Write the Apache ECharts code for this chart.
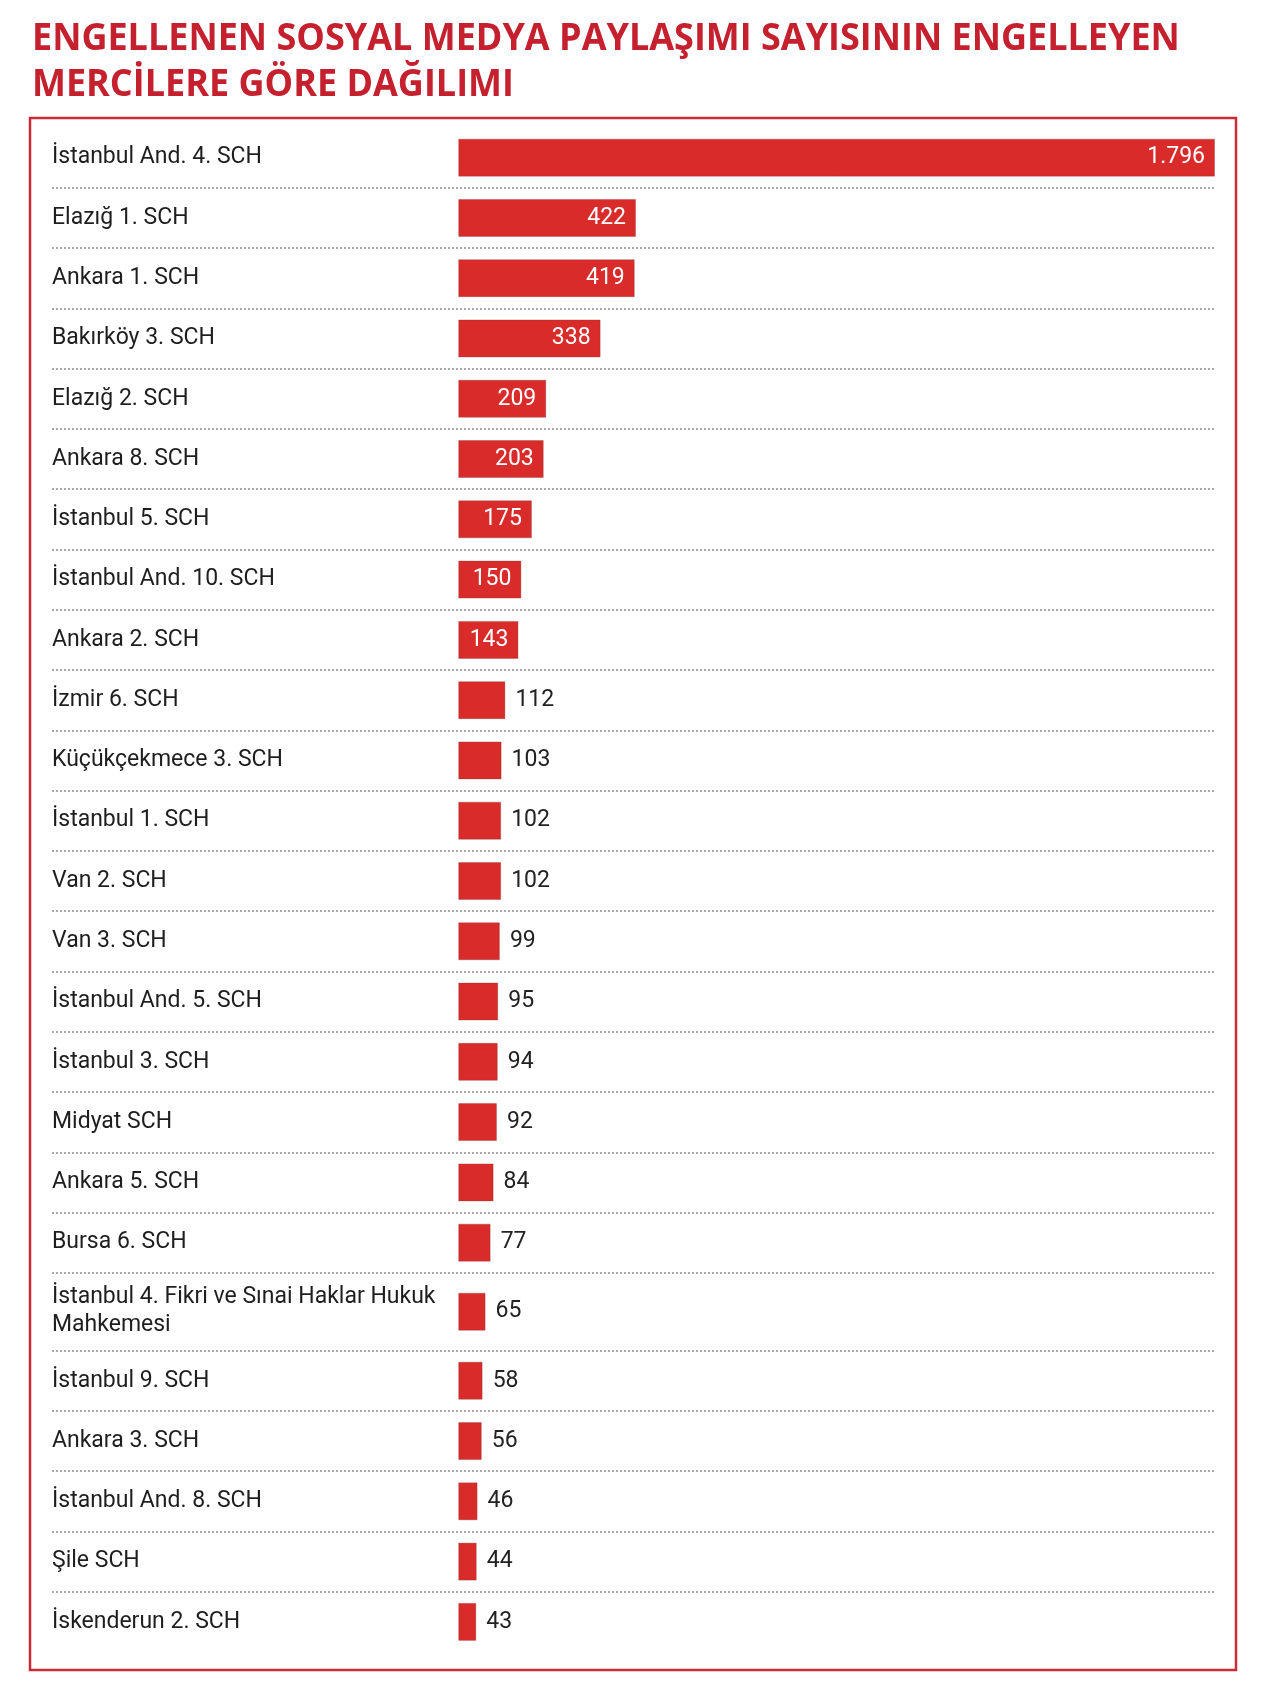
<!DOCTYPE html>
<html><head><meta charset="utf-8">
<script src="https://cdn.jsdelivr.net/npm/echarts@6/dist/echarts.min.js"></script>
<style>html,body{margin:0;padding:0;background:#fff}#c{width:1275px;height:1696px}</style>
</head><body><div id="c"></div>
<script>
const titleLines = [
  'ENGELLENEN SOSYAL MEDYA PAYLAŞIMI SAYISININ ENGELLEYEN',
  'MERCİLERE GÖRE DAĞILIMI'
];
const categories = [
  'İstanbul And. 4. SCH',
  'Elazığ 1. SCH',
  'Ankara 1. SCH',
  'Bakırköy 3. SCH',
  'Elazığ 2. SCH',
  'Ankara 8. SCH',
  'İstanbul 5. SCH',
  'İstanbul And. 10. SCH',
  'Ankara 2. SCH',
  'İzmir 6. SCH',
  'Küçükçekmece 3. SCH',
  'İstanbul 1. SCH',
  'Van 2. SCH',
  'Van 3. SCH',
  'İstanbul And. 5. SCH',
  'İstanbul 3. SCH',
  'Midyat SCH',
  'Ankara 5. SCH',
  'Bursa 6. SCH',
  'İstanbul 4. Fikri ve Sınai Haklar Hukuk\nMahkemesi',
  'İstanbul 9. SCH',
  'Ankara 3. SCH',
  'İstanbul And. 8. SCH',
  'Şile SCH',
  'İskenderun 2. SCH'
];
const values = [1796, 422, 419, 338, 209, 203, 175, 150, 143, 112, 103, 102, 102, 99, 95, 94, 92, 84, 77, 65, 58, 56, 46, 44, 43];

const X_MAX = 1796, X_MIN = -964;
const LEFT = 52, RIGHT = 1215, ROW = 60.28, TALL = 77.8, TOP = 127.5;
const groups = [[0, 19], [19, 20], [20, 25]];
const RED = '#d92b2a';
const fmt = v => String(v).replace(/\B(?=(\d{3})+(?!\d))/g, '.');

const grids = [], xAxes = [], yAxes = [], series = [];
let y = TOP;
groups.forEach(([a, b], gi) => {
  const cats = categories.slice(a, b), vals = values.slice(a, b);
  const h = cats.reduce((s, c) => s + (c.includes('\n') ? TALL : ROW), 0);
  grids.push({ left: LEFT, width: RIGHT - LEFT, top: y, height: h, outerBoundsMode: 'none', containLabel: false });
  y += h;
  xAxes.push({ type: 'value', gridIndex: gi, min: X_MIN, max: X_MAX, show: false, splitLine: { show: false } });
  yAxes.push({
    type: 'category', gridIndex: gi, data: cats, inverse: true,
    axisLine: { show: false, onZero: false }, axisTick: { show: false },
    axisLabel: { align: 'left', margin: 0, color: '#1e1e1e', fontFamily: 'Roboto', fontSize: 23, lineHeight: 28, padding: [6, 0, 0, 0] },
    splitLine: { show: true, showMinLine: false, showMaxLine: gi < 2,
      lineStyle: { color: '#a8a8a8', width: 2, type: [2, 2] } }
  });
  series.push({
    type: 'bar', xAxisIndex: gi, yAxisIndex: gi, barWidth: 38,
    itemStyle: { color: RED, borderColor: 'rgba(140,60,60,0.35)', borderWidth: 1 },
    label: { show: true, fontFamily: 'Roboto', fontSize: 23, padding: [5, 0, 0, 0], formatter: p => fmt(p.value) },
    data: vals.map(v => ({
      value: v,
      label: v >= 140 ? { position: 'insideRight', color: '#fff', distance: 10 }
                      : { position: 'right', color: '#222', distance: 10 }
    }))
  });
});

const chart = echarts.init(document.getElementById('c'), null, { renderer: 'canvas' });
chart.setOption({
  backgroundColor: '#fff',
  animation: false,
  grid: grids, xAxis: xAxes, yAxis: yAxes, series: series,
  graphic: [
    { type: 'text', x: 32, y: 20, scaleX: 0.947, style: { text: titleLines[0], font: 'bold 38px "Open Sans"', fill: '#c4202e' } },
    { type: 'text', x: 32, y: 66, scaleX: 0.947, style: { text: titleLines[1], font: 'bold 38px "Open Sans"', fill: '#c4202e' } },
    { type: 'rect', shape: { x: 30, y: 118, width: 1206, height: 1552 }, style: { fill: 'none', stroke: '#c92a35', lineWidth: 2.5 }, silent: true }
  ]
});
</script></body></html>
